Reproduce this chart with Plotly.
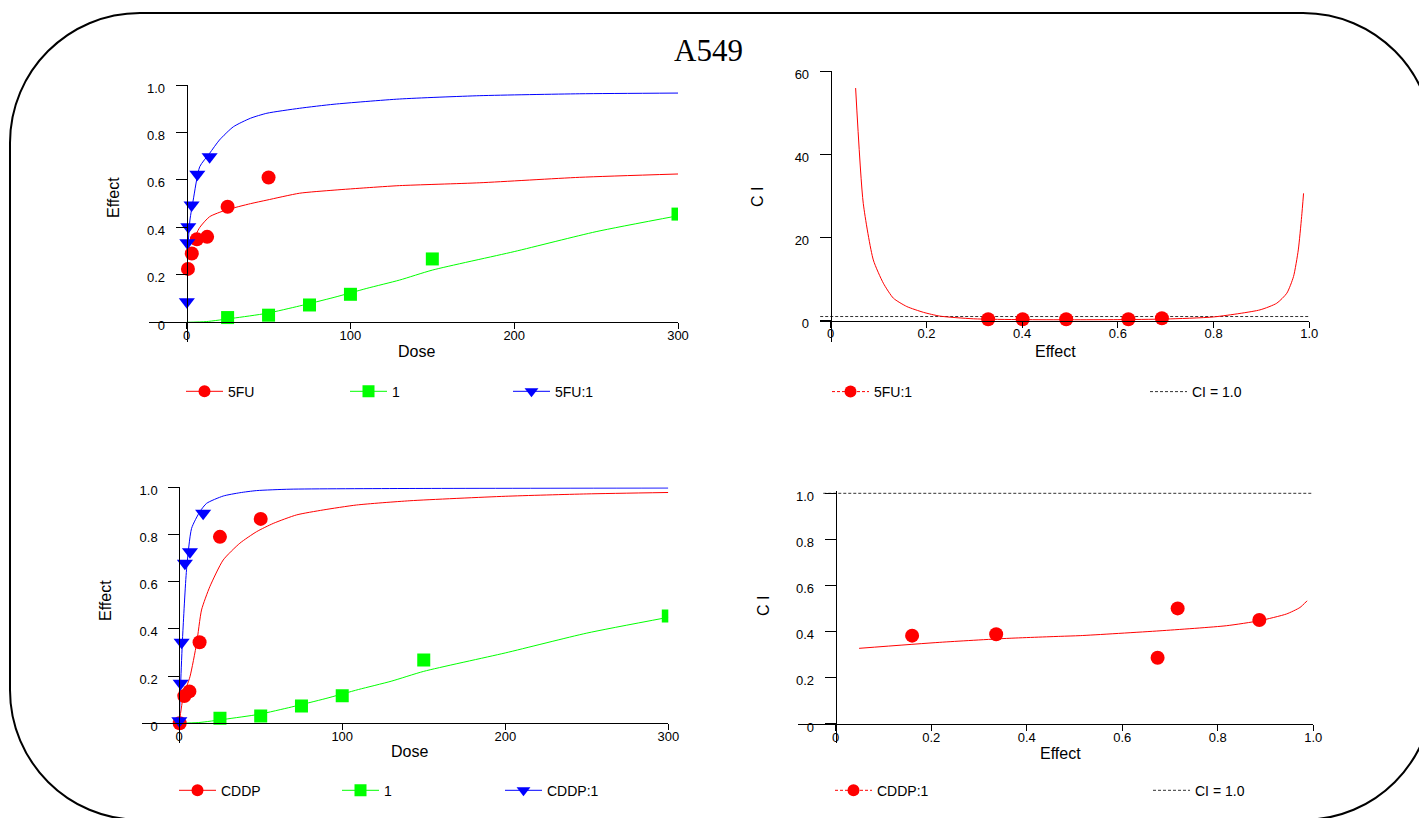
import plotly.graph_objects as go

W, H = 1427, 818
OFF = 8  # page body margin of the browser


def px(x):
    return (x - OFF) / W


def py(y):
    return 1 - (y - OFF) / H


# ---------------- data ----------------
# Top-left: dose-effect, 5FU / drug 1 / 5FU:1
fu_dose = [0.78, 3.125, 6.25, 12.5, 25, 50]
fu_eff = [0.225, 0.29, 0.35, 0.36, 0.487, 0.61]
fu_fit_dose = [5, 8, 14, 24, 39, 49, 69, 90, 110, 130, 179, 240, 300]
fu_fit_eff = [0.36, 0.40, 0.445, 0.473, 0.50, 0.515, 0.544, 0.557, 0.567, 0.576, 0.588, 0.611, 0.625]

d1_dose = [25, 50, 75, 100, 150, 300]
d1_eff = [0.02, 0.03, 0.073, 0.118, 0.267, 0.456]
d1_fit_dose = [0, 12, 28, 49, 69, 90, 110, 130, 150, 200, 250, 300]
d1_fit_eff = [0, 0.003, 0.017, 0.038, 0.069, 0.105, 0.143, 0.178, 0.22, 0.298, 0.382, 0.449]

fumix_dose = [0.1, 0.4, 1.0, 3.0, 6.5, 14]
fumix_eff = [0.087, 0.335, 0.403, 0.494, 0.624, 0.698]
fumix_fit_dose = [0.4, 2, 4, 8, 14, 20, 28.5, 39, 49, 69, 90, 130, 179, 240, 300]
fumix_fit_eff = [0.276, 0.431, 0.515, 0.656, 0.712, 0.768, 0.824, 0.86, 0.881, 0.902, 0.919, 0.941, 0.955, 0.963, 0.966]

# Top-right: CI vs effect, 5FU:1
fuci_eff = [0.329, 0.401, 0.492, 0.622, 0.692]
fuci_ci = [0.33, 0.33, 0.33, 0.33, 0.57]
fuci_fit_eff = [0.052, 0.068, 0.089, 0.11, 0.131, 0.159, 0.194, 0.228, 0.298, 0.4, 0.5, 0.6,
                0.7, 0.8, 0.897, 0.932, 0.953, 0.967, 0.977, 0.984, 0.988]
fuci_fit_ci = [55.9, 28.2, 14.6, 9.0, 5.4, 3.4, 2.0, 1.1, 0.45, 0.25, 0.22, 0.25,
               0.4, 0.9, 2.6, 4.2, 6.6, 10.6, 17, 25, 30.6]

# Bottom-left: dose-effect, CDDP / drug 1 / CDDP:1
cd_dose = [0.3, 3.125, 6.25, 12.5, 25, 50]
cd_eff = [0.0, 0.115, 0.135, 0.343, 0.79, 0.866]
cd_fit_dose = [0, 2.5, 6.6, 10.7, 13.7, 18.8, 27, 37.2, 47.5, 57.7, 72, 88.3, 108.8, 141.5, 200, 250, 300]
cd_fit_eff = [0, 0.113, 0.197, 0.339, 0.48, 0.579, 0.692, 0.763, 0.812, 0.847, 0.883, 0.904,
              0.925, 0.943, 0.962, 0.972, 0.978]

d1b_dose = [25, 50, 75, 100, 150, 300]
d1b_eff = [0.021, 0.031, 0.073, 0.117, 0.268, 0.455]

cdmix_dose = [0.1, 0.9, 1.5, 3.5, 6.6, 14.7]
cdmix_eff = [0.011, 0.17, 0.343, 0.678, 0.727, 0.89]
cdmix_fit_dose = [0, 0.9, 2.1, 4.5, 7.6, 12.7, 16.8, 27, 37.2, 47.5, 68, 141.5, 300]
cdmix_fit_eff = [0, 0.17, 0.367, 0.65, 0.826, 0.897, 0.932, 0.963, 0.977, 0.986, 0.992, 0.995, 0.997]

# Bottom-right: CI vs effect, CDDP:1
cdci_eff = [0.16, 0.336, 0.674, 0.716, 0.887]
cdci_ci = [0.383, 0.389, 0.287, 0.501, 0.451]
cdci_fit_eff = [0.049, 0.218, 0.358, 0.47, 0.512, 0.679, 0.818, 0.888, 0.944, 0.972, 0.987]
cdci_fit_ci = [0.328, 0.354, 0.371, 0.38, 0.383, 0.404, 0.426, 0.448, 0.477, 0.505, 0.534]

ci_ref_x_top = [-0.022, 1.0]
ci_ref_x_bot = [-0.026, 1.0]
ci_ref_y = [1.0, 1.0]

dose_ticks = [0, 100, 200, 300]
eff_ticks = [0, 0.2, 0.4, 0.6, 0.8, 1.0]
eff_ticktext = ["0", "0.2", "0.4", "0.6", "0.8", "1.0"]
ci_top_ticks = [0, 20, 40, 60]

# ---------------- styling ----------------
RED, GREEN, BLUE = "#FF0000", "#00FF00", "#0000FF"
FONT = "Arial, Liberation Sans, sans-serif"

fig = go.Figure()


def scatter(x, y, color, symbol, size, xa, ya):
    fig.add_trace(go.Scatter(x=x, y=y, mode="markers", xaxis=xa, yaxis=ya, showlegend=False,
                             marker=dict(color=color, symbol=symbol, size=size, line=dict(width=0))))


def curve(x, y, color, xa, ya, dash="solid", shape="spline"):
    fig.add_trace(go.Scatter(x=x, y=y, mode="lines", xaxis=xa, yaxis=ya, showlegend=False,
                             line=dict(color=color, width=1, dash=dash, shape=shape, smoothing=0.6)))


# Top-left
curve(fu_fit_dose, fu_fit_eff, RED, "x", "y")
curve(d1_fit_dose, d1_fit_eff, GREEN, "x", "y")
curve(fumix_fit_dose, fumix_fit_eff, BLUE, "x", "y")
scatter(fu_dose, fu_eff, RED, "circle", 14, "x", "y")
scatter(d1_dose, d1_eff, GREEN, "square", 13, "x", "y")
scatter(fumix_dose, fumix_eff, BLUE, "triangle-down", 14, "x", "y")

# Top-right
curve(ci_ref_x_top, ci_ref_y, "#333333", "x2", "y2", dash="3px,2px", shape="linear")
curve(fuci_fit_eff, fuci_fit_ci, RED, "x2", "y2")
scatter(fuci_eff, fuci_ci, RED, "circle", 14, "x2", "y2")

# Bottom-left
curve(cd_fit_dose, cd_fit_eff, RED, "x3", "y3")
curve(d1_fit_dose, d1_fit_eff, GREEN, "x3", "y3")
curve(cdmix_fit_dose, cdmix_fit_eff, BLUE, "x3", "y3")
scatter(cd_dose, cd_eff, RED, "circle", 14, "x3", "y3")
scatter(d1b_dose, d1b_eff, GREEN, "square", 13, "x3", "y3")
scatter(cdmix_dose, cdmix_eff, BLUE, "triangle-down", 14, "x3", "y3")

# Bottom-right
curve(ci_ref_x_bot, ci_ref_y, "#333333", "x4", "y4", dash="3px,2px", shape="linear")
curve(cdci_fit_eff, cdci_fit_ci, RED, "x4", "y4")
scatter(cdci_eff, cdci_ci, RED, "circle", 14, "x4", "y4")

# Legend entries: one small legend per entry, (name, color, symbol, dash, mode, line-start x, y)
legend_entries = [
    ("5FU", RED, "circle", "solid", "lines+markers", 186, 391.7),
    ("1", GREEN, "square", "solid", "lines+markers", 350, 391.7),
    ("5FU:1", BLUE, "triangle-down", "solid", "lines+markers", 513, 391.7),
    ("5FU:1", RED, "circle", "3px,2px", "lines+markers", 832, 392),
    ("CI = 1.0", "#333333", "circle", "3px,2px", "lines", 1150, 392),
    ("CDDP", RED, "circle", "solid", "lines+markers", 179, 790.7),
    ("1", GREEN, "square", "solid", "lines+markers", 342, 790.7),
    ("CDDP:1", BLUE, "triangle-down", "solid", "lines+markers", 505, 790.7),
    ("CDDP:1", RED, "circle", "3px,2px", "lines+markers", 835, 790.7),
    ("CI = 1.0", "#333333", "circle", "3px,2px", "lines", 1153, 790.7),
]

legend_layout = {}
for i, (name, color, symbol, dash, mode, lx, ly) in enumerate(legend_entries):
    key = "legend" if i == 0 else f"legend{i + 1}"
    fig.add_trace(go.Scatter(x=[None], y=[None], mode=mode, name=name, legend=key,
                             line=dict(color=color, width=1, dash=dash),
                             marker=dict(color=color, symbol=symbol, size=12, line=dict(width=0))))
    legend_layout[key] = dict(x=px(lx - 5), y=py(ly), xanchor="left", yanchor="middle",
                              bgcolor="rgba(0,0,0,0)", borderwidth=0, itemwidth=37,
                              font=dict(family=FONT, size=14, color="black"),
                              itemclick=False, itemdoubleclick=False)

tickfont = dict(family=FONT, size=13, color="black")


def xax(dom, rng, pos, tickvals, ticktext):
    return dict(domain=[px(dom[0]), px(dom[1])], range=rng, anchor="free", position=py(pos),
                showgrid=False, zeroline=False, showline=True, linecolor="black", linewidth=1,
                ticks="outside", ticklen=6, tickcolor="black", tickwidth=1,
                ticklabelstandoff=-5,
                tickvals=tickvals, ticktext=ticktext, tickfont=tickfont, fixedrange=True)


def yax(dom, rng, pos, tickvals, ticktext):
    return dict(domain=[py(dom[1]), py(dom[0])], range=rng, anchor="free", position=px(pos),
                showgrid=False, zeroline=False, showline=True, linecolor="black", linewidth=1,
                ticks="outside", ticklen=11, tickcolor="black", tickwidth=1,
                ticklabelstandoff=8, ticklabelshift=3,
                tickvals=tickvals, ticktext=ticktext, tickfont=tickfont, fixedrange=True)


fig.update_layout(
    width=W, height=H, autosize=False,
    margin=dict(l=0, r=0, t=0, b=0, pad=0, autoexpand=False),
    paper_bgcolor="white", plot_bgcolor="white",
    xaxis=xax((149, 678), [-23, 300], 322.3, dose_ticks, [str(v) for v in dose_ticks]),
    yaxis=yax((85, 342), [-0.083, 1.0], 186.7, eff_ticks, eff_ticktext),
    xaxis2=xax((820, 1309.3), [-0.0224, 1.0], 320.7, eff_ticks, eff_ticktext),
    yaxis2=yax((71, 341.7), [-5.05, 60], 830.7, ci_top_ticks, [str(v) for v in ci_top_ticks]),
    xaxis3=xax((141.7, 668.3), [-23, 300], 723.3, dose_ticks, [str(v) for v in dose_ticks]),
    yaxis3=yax((487.3, 743.3), [-0.085, 1.0], 179.3, eff_ticks, eff_ticktext),
    xaxis4=xax((798.3, 1313.3), [-0.0783, 1.0], 724, eff_ticks, eff_ticktext),
    yaxis4=yax((491, 743.3), [-0.0837, 1.01], 835.7, eff_ticks, eff_ticktext),
    showlegend=True,
    **legend_layout,
)

# Rounded frame
L, T, R, B, r = 10, 13, 1433, 820, 130
k = 0.5523 * r


def P(x, y):
    return f"{px(x):.5f},{py(y):.5f}"


path = (f"M {P(L + r, T)} L {P(R - r, T)} C {P(R - r + k, T)} {P(R, T + r - k)} {P(R, T + r)} "
        f"L {P(R, B - r)} C {P(R, B - r + k)} {P(R - r + k, B)} {P(R - r, B)} "
        f"L {P(L + r, B)} C {P(L + r - k, B)} {P(L, B - r + k)} {P(L, B - r)} "
        f"L {P(L, T + r)} C {P(L, T + r - k)} {P(L + r - k, T)} {P(L + r, T)} Z")
fig.add_shape(type="path", path=path, xref="paper", yref="paper",
              line=dict(color="black", width=2), fillcolor="rgba(0,0,0,0)", layer="below")

# Title and axis titles
annots = [
    dict(text="A549", x=708, y=51, size=31, family="Times New Roman, Liberation Serif, serif", angle=0),
    dict(text="Effect", x=113, y=198, size=16, family=FONT, angle=-90),
    dict(text="Dose", x=416, y=352, size=16, family=FONT, angle=0),
    dict(text="C I", x=758, y=197, size=16, family=FONT, angle=-90),
    dict(text="Effect", x=1055, y=352, size=16, family=FONT, angle=0),
    dict(text="Effect", x=105, y=600, size=16, family=FONT, angle=-90),
    dict(text="Dose", x=409, y=751, size=16, family=FONT, angle=0),
    dict(text="C I", x=763, y=606, size=16, family=FONT, angle=-90),
    dict(text="Effect", x=1060, y=753, size=16, family=FONT, angle=0),
]
for a in annots:
    fig.add_annotation(text=a["text"], x=px(a["x"]), y=py(a["y"]), xref="paper", yref="paper",
                       xanchor="center", yanchor="middle", showarrow=False, textangle=a["angle"],
                       font=dict(family=a["family"], size=a["size"], color="black"))

fig.write_html("out.html")
